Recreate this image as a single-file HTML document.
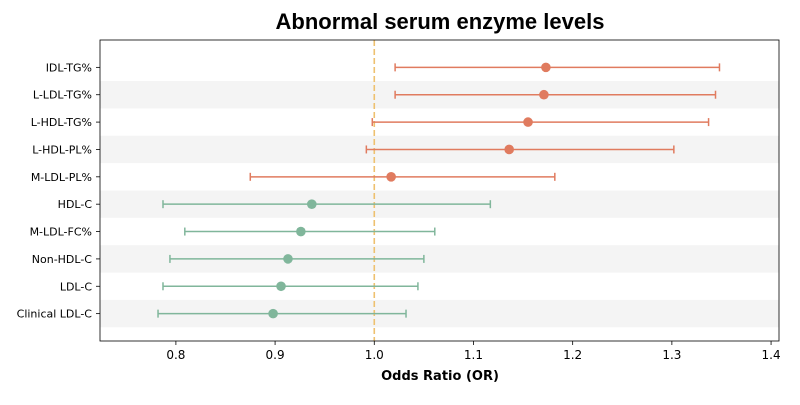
<!DOCTYPE html>
<html><head><meta charset="utf-8"><style>
body{margin:0;background:#fff;font-family:"Liberation Sans","DejaVu Sans",sans-serif}
svg text{font-family:"DejaVu Sans","Liberation Sans",sans-serif}
</style></head><body>
<svg id="chart" width="800" height="400" xmlns="http://www.w3.org/2000/svg">
<rect width="800" height="400" fill="#fff"/>
<text x="440" y="29" text-anchor="middle" font-size="22" font-weight="bold" fill="#000" style="font-family:'Liberation Sans',sans-serif">Abnormal serum enzyme levels</text>
<g id="bands"></g><g id="refline"></g><g id="marks"></g><g id="axes"></g>
<text x="440" y="380" text-anchor="middle" font-size="13" font-weight="bold" fill="#000">Odds Ratio (OR)</text>
</svg>
<script>
const labels=["IDL-TG%","L-LDL-TG%","L-HDL-TG%","L-HDL-PL%","M-LDL-PL%","HDL-C","M-LDL-FC%","Non-HDL-C","LDL-C","Clinical LDL-C"];
const orValues=[1.173,1.171,1.155,1.136,1.017,0.937,0.926,0.913,0.906,0.898];
const lowerCI=[1.021,1.021,0.998,0.992,0.875,0.787,0.809,0.794,0.787,0.782];
const upperCI=[1.348,1.344,1.337,1.302,1.182,1.117,1.061,1.050,1.044,1.032];
const xTicks=[0.8,0.9,1.0,1.1,1.2,1.3,1.4];
const NS="http://www.w3.org/2000/svg";
const L=100,R=779,T=40,B=341,xmin=0.7235,xmax=1.408;
const X=v=>L+(v-xmin)/(xmax-xmin)*(R-L);
const step=(B-T)/(labels.length+1);
const Y=i=>T+step*(i+1);
function mk(tag,attrs,parent){const e=document.createElementNS(NS,tag);for(const k in attrs)e.setAttribute(k,attrs[k]);document.getElementById(parent).appendChild(e);return e;}
labels.forEach((l,i)=>{
 if(i%2===1){const b=mk('rect',{x:L,y:Y(i)-step/2,width:R-L,height:step,fill:'#f4f4f4'},'bands');
 
 }
});
const rl=mk('line',{x1:X(1),x2:X(1),y1:T,y2:B,stroke:'#eec16f','stroke-width':1.6,'stroke-dasharray':'6,3'},'refline');


labels.forEach((l,i)=>{
 const c=orValues[i]>=1?'#e07b5f':'#80b69b';const y=Y(i);
 const g=mk('g',{},'marks');
 
 
 const add=(t,a)=>{const e=document.createElementNS(NS,t);for(const k in a)e.setAttribute(k,a[k]);g.appendChild(e);return e;};
 add('line',{x1:X(lowerCI[i]),x2:X(upperCI[i]),y1:y,y2:y,stroke:c,'stroke-width':1.5});
 add('line',{x1:X(lowerCI[i]),x2:X(lowerCI[i]),y1:y-4,y2:y+4,stroke:c,'stroke-width':1.5});
 add('line',{x1:X(upperCI[i]),x2:X(upperCI[i]),y1:y-4,y2:y+4,stroke:c,'stroke-width':1.5});
 const p=add('circle',{cx:X(orValues[i]),cy:y,r:4.8,fill:c});
 
 
 const t=mk('text',{x:L-8,y:y+4,'text-anchor':'end','font-size':11,fill:'#000'},'axes');t.textContent=l;
 
 
 mk('line',{x1:L-4,x2:L,y1:y,y2:y,stroke:'#000','stroke-width':0.8},'axes');
});
const fr=mk('rect',{x:L,y:T,width:R-L,height:B-T,fill:'none',stroke:'#000','stroke-width':0.8},'axes');


xTicks.forEach(v=>{
 mk('line',{x1:X(v),x2:X(v),y1:B,y2:B+4,stroke:'#000','stroke-width':0.8},'axes');
 const t=mk('text',{x:X(v),y:B+18,'text-anchor':'middle','font-size':12,fill:'#000'},'axes');t.textContent=v.toFixed(1);
 
 
});
</script>
</body></html>
